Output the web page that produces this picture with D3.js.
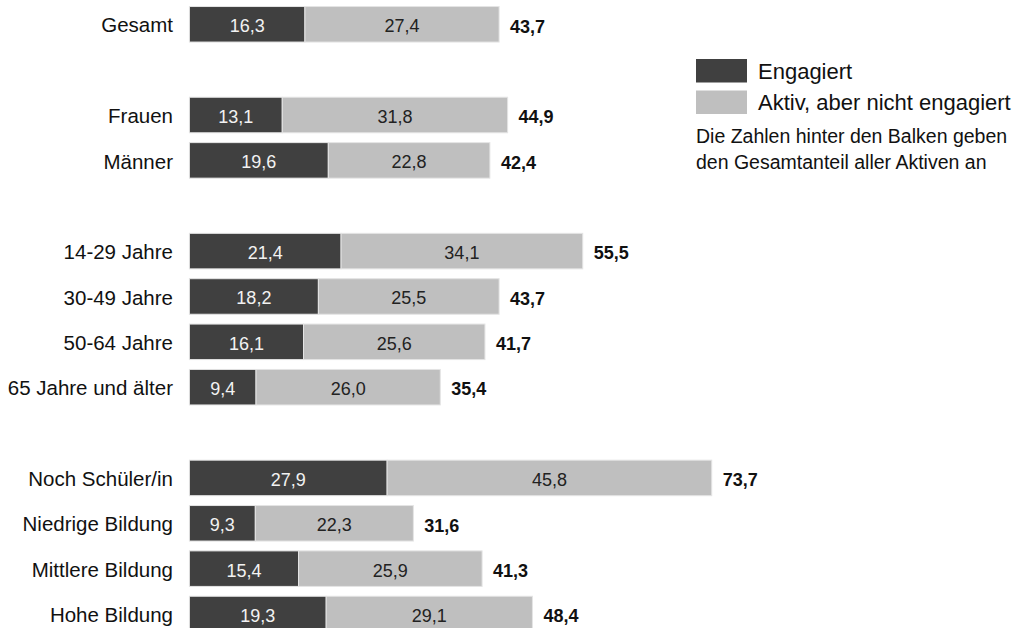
<!DOCTYPE html>
<html>
<head>
<meta charset="utf-8">
<script src="https://cdn.jsdelivr.net/npm/d3@7"></script>
<style>
  body { margin: 0; background: #fff; }
  svg { display: block; font-family: "Liberation Sans", Arial, sans-serif; }
</style>
</head>
<body>
<div id="chart"></div>
<script>
// data
var categories = ["Gesamt", "Frauen", "Männer", "14-29 Jahre", "30-49 Jahre", "50-64 Jahre",
    "65 Jahre und älter", "Noch Schüler/in", "Niedrige Bildung", "Mittlere Bildung", "Hohe Bildung"];
var groups = [0, 1, 1, 2, 2, 2, 2, 3, 3, 3, 3];
var engagiert = [16.3, 13.1, 19.6, 21.4, 18.2, 16.1, 9.4, 27.9, 9.3, 15.4, 19.3];
var aktiv = [27.4, 31.8, 22.8, 34.1, 25.5, 25.6, 26.0, 45.8, 22.3, 25.9, 29.1];
var totals = [43.7, 44.9, 42.4, 55.5, 43.7, 41.7, 35.4, 73.7, 31.6, 41.3, 48.4];
var seriesNames = ["Engagiert", "Aktiv, aber nicht engagiert"];
var noteLines = ["Die Zahlen hinter den Balken geben", "den Gesamtanteil aller Aktiven an"];

var width = 1018, height = 628;
var colors = ["#404040", "#bfbfbf"];

var svg = d3.select("#chart").append("svg")
    .attr("width", width)
    .attr("height", height);

// slots: an empty slot between groups
var slots = [];
categories.forEach(function(c, i) {
    if (i > 0 && groups[i] !== groups[i - 1]) slots.push("_gap" + i);
    slots.push(c);
});

var y = d3.scaleBand()
    .domain(slots)
    .range([1.6, 636.7])
    .paddingInner(0.217)
    .paddingOuter(0.1085);

var x = d3.scaleLinear()
    .domain([0, 100])
    .range([189.4, 898.1]);

var fmt = function(v) { return d3.format(".1f")(v).replace(".", ","); };

var rows = categories.map(function(c, i) {
    return {cat: c, eng: engagiert[i], akt: aktiv[i], total: totals[i]};
});

var row = svg.selectAll("g.row")
    .data(rows)
    .enter().append("g")
    .attr("class", "row")
    .attr("transform", function(d) { return "translate(0," + y(d.cat) + ")"; });

var bh = y.bandwidth();

// engagiert segment
row.append("rect")
    .attr("x", x(0))
    .attr("y", 0)
    .attr("width", function(d) { return x(d.eng) - x(0); })
    .attr("height", bh)
    .attr("fill", colors[0])
    .attr("stroke", "#e4e4e4")
    .attr("stroke-width", 1);

// aktiv segment
row.append("rect")
    .attr("x", function(d) { return x(d.eng); })
    .attr("y", 0)
    .attr("width", function(d) { return x(d.eng + d.akt) - x(d.eng); })
    .attr("height", bh)
    .attr("fill", colors[1])
    .attr("stroke", "#e4e4e4")
    .attr("stroke-width", 1);

// category labels
row.append("text")
    .attr("x", 173)
    .attr("y", bh / 2)
    .attr("dy", "0.4em")
    .attr("text-anchor", "end")
    .style("font-size", "20.5px")
    .attr("fill", "#111")
    .text(function(d) { return d.cat; });

// values inside bars
row.append("text")
    .attr("x", function(d) { return (x(0) + x(d.eng)) / 2; })
    .attr("y", bh / 2)
    .attr("dy", "0.44em")
    .attr("text-anchor", "middle")
    .style("font-size", "18px")
    .attr("fill", "#f2f2f2")
    .text(function(d) { return fmt(d.eng); });

row.append("text")
    .attr("x", function(d) { return (x(d.eng) + x(d.eng + d.akt)) / 2; })
    .attr("y", bh / 2)
    .attr("dy", "0.44em")
    .attr("text-anchor", "middle")
    .style("font-size", "18px")
    .attr("fill", "#222")
    .text(function(d) { return fmt(d.akt); });

// totals behind bars
row.append("text")
    .attr("x", function(d) { return x(d.total) + 11; })
    .attr("y", bh / 2)
    .attr("dy", "0.46em")
    .style("font-size", "18px")
    .style("font-weight", "bold")
    .attr("fill", "#111")
    .text(function(d) { return fmt(d.total); });

// legend
var legend = svg.append("g").attr("transform", "translate(696,59)");

var item = legend.selectAll("g")
    .data(seriesNames)
    .enter().append("g")
    .attr("transform", function(d, i) { return "translate(0," + (i * 31.5) + ")"; });

item.append("rect")
    .attr("width", 51)
    .attr("height", 23.5)
    .attr("fill", function(d, i) { return colors[i]; });

item.append("text")
    .attr("x", 62)
    .attr("y", 19.5)
    .style("font-size", "22px")
    .attr("fill", "#111")
    .text(function(d) { return d; });

svg.append("g").selectAll("text")
    .data(noteLines)
    .enter().append("text")
    .attr("x", 696)
    .attr("y", function(d, i) { return 143 + i * 25.5; })
    .style("font-size", "19.5px")
    .attr("fill", "#111")
    .text(function(d) { return d; });
</script>
</body>
</html>
